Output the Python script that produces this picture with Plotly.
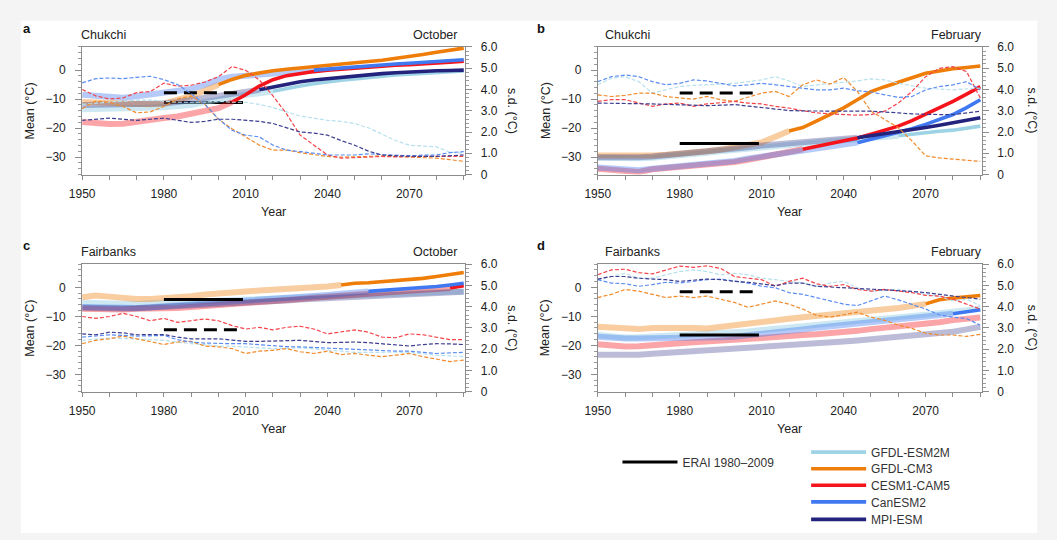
import plotly.graph_objects as go

# ---------------------------------------------------------------- data
YEARS = list(range(1950, 2091, 5))
MODELS = ["GFDL-ESM2M", "GFDL-CM3", "CESM1-CAM5", "CanESM2", "MPI-ESM"]
PANEL_LETTERS = ["a", "b", "c", "d"]
PANEL_SITES = ["Chukchi", "Chukchi", "Fairbanks", "Fairbanks"]
PANEL_MONTHS = ["October", "February", "October", "February"]
X_TICKS = [1950, 1980, 2010, 2040, 2070]
Y_LEFT_TICKS = [0, -10, -20, -30]
Y_RIGHT_TICKS = [0, 1, 2, 3, 4, 5, 6]
Y_RIGHT_TICKTEXT = ["0", "1.0", "2.0", "3.0", "4.0", "5.0", "6.0"]

ERAI_YEARS = [1980, 2009]
ERAI_MEAN = [-11.2, -25.3, -4.2, -16.4]
ERAI_SD = [3.85, 3.83, 2.92, 4.7]

# year from which each model's mean is drawn saturated (None = never)
A_BOLD_START = [2020, 2000, 2005, 2035, 2015]
B_BOLD_START = [2060, 2020, 2025, 2045, 2045]
C_BOLD_START = [None, 2045, 2085, 2055, None]
D_BOLD_START = [None, 2070, None, 2080, None]

# ---- panel a: Chukchi, October
A_MEAN_ESM2M = [-13.5, -13.5, -13.5, -13.5, -13.3, -13, -12.8, -12.5, -12, -11, -10, -9.2, -8.5, -8, -7.3,
                -6.3, -5.5, -4.7, -4, -3.5, -3, -2.5, -2, -1.7, -1.4, -1.1, -0.9, -0.6, -0.3]
A_MEAN_CM3 = [-11, -11.2, -11.5, -11.8, -12, -11.8, -11.5, -10.5, -9, -7, -5, -3.2, -1.8, -0.9, -0.2,
              0.3, 0.8, 1.2, 1.7, 2.1, 2.6, 3.0, 3.4, 4.0, 4.6, 5.4, 6.2, 6.9, 7.6]
A_MEAN_CESM = [-17.9, -18.3, -18.6, -18.5, -17.7, -17, -16.5, -16, -15.2, -14.3, -13.1, -11, -8.5, -5.5, -3.3,
               -1.9, -1.1, -0.5, 0, 0.4, 0.8, 1.1, 1.5, 1.7, 1.9, 2.1, 2.3, 2.7, 3.1]
A_MEAN_CAN = [-8.5, -9, -9.5, -9.5, -9, -8.5, -8, -7.5, -6.5, -5, -3.2, -2.3, -1.8, -1.5, -1.2,
              -0.8, -0.4, 0, 0.4, 0.8, 1.2, 1.5, 1.8, 2.1, 2.4, 2.7, 3.0, 3.3, 3.6]
A_MEAN_MPI = [-12, -12, -12, -12, -12, -11.8, -11.5, -11, -10.3, -9.5, -8.8, -8.3, -7.8, -6.8, -5.8,
              -4.8, -4, -3.4, -2.9, -2.4, -2.0, -1.6, -1.2, -0.9, -0.6, -0.4, -0.2, -0.1, 0]
A_SD_ESM2M = [3.3, 3.35, 3.4, 3.45, 3.5, 3.5, 3.45, 3.4, 3.4, 3.4, 3.45, 3.4, 3.4, 3.3, 3.15,
              2.95, 2.75, 2.65, 2.55, 2.5, 2.4, 2.2, 1.9, 1.6, 1.38, 1.35, 1.3, 1.05, 1.0]
A_SD_CM3 = [3.1, 3.45, 3.4, 3.2, 2.9, 2.95, 3.2, 3.55, 3.7, 3.3, 2.6, 2.15, 1.77, 1.38, 1.15,
            1.15, 1.03, 0.95, 0.85, 0.82, 0.82, 0.85, 0.88, 0.85, 0.85, 0.82, 0.77, 0.7, 0.62]
A_SD_CESM = [4.0, 3.7, 3.55, 3.6, 3.85, 3.9, 4.3, 4.15, 4.2, 4.35, 4.6, 5.08, 4.9, 4.45, 3.7,
             2.85, 1.85, 1.38, 0.92, 0.77, 0.8, 0.82, 0.85, 0.83, 0.85, 0.85, 0.85, 0.85, 0.85]
A_SD_CAN = [4.31, 4.51, 4.54, 4.51, 4.57, 4.62, 4.46, 4.23, 3.8, 3.31, 2.62, 2.08, 1.85, 1.77, 1.38,
            1.15, 1.08, 1.0, 0.92, 0.92, 0.92, 0.97, 0.95, 0.91, 0.88, 0.91, 0.92, 1.03, 1.08]
A_SD_MPI = [2.55, 2.6, 2.65, 2.6, 2.55, 2.6, 2.65, 2.55, 2.45, 2.5, 2.6, 2.6, 2.55, 2.5, 2.4,
            2.2, 2.0, 1.95, 1.85, 1.6, 1.38, 1.1, 0.92, 0.88, 0.85, 0.85, 0.85, 0.88, 0.92]

# ---- panel b: Chukchi, February
B_MEAN_ESM2M = [-30.2, -30.4, -30.5, -30.4, -30.2, -29.9, -29.5, -29, -28.5, -28, -27.5, -27, -26.5, -26, -25.5,
                -25.1, -24.8, -24.5, -24.2, -23.9, -23.5, -23.1, -22.6, -22, -21.5, -21.1, -20.7, -20, -19.3]
B_MEAN_CM3 = [-29.4, -29.5, -29.6, -29.5, -29.4, -29.2, -28.9, -28.5, -28, -27.4, -26.6, -25.8, -24.9, -23, -21,
              -19.8, -17.6, -15.3, -13, -10.2, -7.4, -5.7, -4.2, -2.6, -1.1, -0.3, 0.5, 0.9, 1.4]
B_MEAN_CESM = [-34, -34.4, -34.8, -35.1, -34.2, -33.8, -33.4, -33.1, -32.8, -32.3, -31.7, -30.9, -30, -29.2, -28.3,
               -27.3, -26.4, -25.5, -24.6, -23.4, -22.1, -20.8, -19.3, -17.4, -15.3, -13, -10.8, -8.3, -5.7]
B_MEAN_CAN = [-33.6, -34, -34.3, -34.5, -34, -33.6, -33.2, -32.8, -32.4, -31.9, -31.3, -30.5, -29.8, -29, -28.2,
              -27.5, -26.8, -26.2, -25.6, -25, -23.8, -22.7, -21.5, -20.2, -18.7, -17, -15.3, -12.9, -10.2]
B_MEAN_MPI = [-30, -30.1, -30.2, -30, -29.8, -29.4, -28.9, -28.5, -28.1, -27.7, -27.2, -26.6, -26, -25.6, -25.3,
              -24.8, -24.3, -24, -23.8, -23.3, -22.6, -22.1, -21.5, -20.7, -19.8, -19, -18.1, -17.3, -16.4]
B_SD_ESM2M = [4.22, 4.53, 4.6, 4.37, 3.83, 3.98, 4.14, 4.19, 4.22, 4.25, 4.29, 4.37, 4.45, 4.6, 4.4,
              4.14, 4.22, 4.28, 4.34, 4.4, 4.5, 4.45, 4.29, 4.17, 4.06, 4.02, 3.98, 4.03, 4.06]
B_SD_CM3 = [3.75, 3.67, 3.72, 3.83, 3.83, 3.67, 3.6, 3.55, 3.67, 3.52, 3.44, 3.63, 3.83, 3.91, 3.67,
            4.22, 4.45, 4.25, 4.56, 3.91, 2.98, 2.59, 2.2, 1.58, 0.88, 0.78, 0.73, 0.65, 0.62]
B_SD_CESM = [3.44, 3.52, 3.52, 3.36, 3.21, 3.32, 3.36, 3.21, 3.32, 3.38, 3.44, 3.36, 3.32, 3.21, 3.13,
             3.0, 2.9, 2.85, 2.82, 2.79, 2.82, 2.98, 3.36, 3.91, 4.6, 4.99, 5.07, 4.84, 3.6]
B_SD_CAN = [4.37, 4.6, 4.68, 4.6, 4.37, 4.22, 4.29, 4.45, 4.4, 4.29, 4.17, 4.22, 4.29, 4.22, 4.14,
            4.06, 3.98, 3.98, 4.06, 3.94, 3.88, 3.75, 3.63, 3.67, 3.98, 4.14, 4.22, 4.37, 3.98]
B_SD_MPI = [3.36, 3.36, 3.36, 3.33, 3.32, 3.3, 3.29, 3.26, 3.24, 3.26, 3.29, 3.22, 3.16, 3.09, 3.01,
            2.99, 2.98, 2.98, 2.98, 2.98, 2.98, 2.95, 2.9, 2.85, 2.82, 2.82, 2.82, 2.9, 2.98]

# ---- panel c: Fairbanks, October
C_MEAN_ESM2M = [-5.3, -5.5, -5.6, -5.7, -5.7, -5.5, -5.3, -5.1, -4.9, -4.7, -4.5, -4.3, -4.2, -3.9, -3.7,
                -3.6, -3.4, -3.1, -2.8, -2.6, -2.5, -2.3, -2.3, -2.1, -2.0, -1.8, -1.7, -1.5, -1.4]
C_MEAN_CM3 = [-3.4, -2.8, -3.2, -3.75, -4, -4, -3.8, -3.5, -3.1, -2.5, -2, -1.7, -1.4, -1.1, -0.9,
              -0.6, -0.3, 0, 0.3, 0.8, 1.4, 1.6, 1.9, 2.2, 2.6, 3.1, 3.75, 4.4, 5.1]
C_MEAN_CESM = [-7.4, -7.6, -7.7, -7.6, -7.4, -7.4, -7.4, -7.1, -6.8, -6.5, -6.25, -5.8, -5.3, -5.0, -4.8,
               -4.4, -4, -3.6, -3.2, -2.8, -2.5, -2.1, -1.7, -1.4, -1.1, -0.8, -0.6, -0.2, 0.6]
C_MEAN_CAN = [-6.8, -7, -7.2, -7.2, -7.1, -6.9, -6.6, -6.3, -6, -5.6, -5.3, -5.1, -4.9, -4.5, -4.2,
              -3.8, -3.4, -3, -2.6, -2.2, -1.9, -1.4, -1.1, -0.7, -0.3, 0, 0.3, 0.8, 1.4]
C_MEAN_MPI = [-7, -7.2, -7.4, -7.3, -7.2, -7, -6.8, -6.5, -6.3, -6.1, -5.9, -5.6, -5.3, -5, -4.8,
              -4.5, -4.2, -4, -3.75, -3.5, -3.4, -3.1, -2.8, -2.6, -2.5, -2.2, -2, -1.8, -1.5]
C_SD_ESM2M = [2.42, 2.48, 2.52, 2.51, 2.49, 2.46, 2.42, 2.34, 2.26, 2.22, 2.15, 2.14, 2.11, 2.06, 2.03,
              2.05, 2.06, 2.02, 1.95, 1.91, 1.85, 1.86, 1.88, 1.86, 1.85, 1.78, 1.72, 1.69, 1.65]
C_SD_CM3 = [2.26, 2.42, 2.49, 2.62, 2.49, 2.34, 2.22, 2.34, 2.37, 2.15, 2.11, 2.03, 1.8, 1.91, 1.95,
            2.03, 1.88, 1.8, 1.91, 1.75, 1.8, 1.72, 1.65, 1.72, 1.8, 1.65, 1.54, 1.42, 1.49]
C_SD_CESM = [3.54, 3.45, 3.54, 3.69, 3.54, 3.34, 3.45, 3.26, 3.34, 3.42, 3.34, 3.11, 2.95, 3.03, 2.91,
             3.03, 3.08, 2.95, 2.72, 2.8, 2.91, 2.8, 2.57, 2.54, 2.72, 2.68, 2.57, 2.45, 2.45]
C_SD_CAN = [2.57, 2.62, 2.68, 2.65, 2.62, 2.63, 2.65, 2.45, 2.34, 2.29, 2.26, 2.26, 2.26, 2.22, 2.15,
            2.12, 2.11, 2.08, 2.03, 2.02, 2.0, 1.95, 1.91, 1.91, 1.91, 1.85, 1.8, 1.83, 1.85]
C_SD_MPI = [2.72, 2.68, 2.8, 2.77, 2.68, 2.68, 2.69, 2.57, 2.49, 2.49, 2.49, 2.43, 2.37, 2.37, 2.37,
            2.4, 2.42, 2.37, 2.31, 2.32, 2.34, 2.31, 2.26, 2.2, 2.15, 2.22, 2.26, 2.25, 2.22]

# ---- panel d: Fairbanks, February
D_MEAN_ESM2M = [-16.4, -17, -17.3, -17.2, -17, -16.7, -16.4, -16.3, -16.2, -15.9, -15.6, -15.2, -14.7, -14.3, -13.8,
                -13.4, -13, -12.5, -12.1, -11.7, -11.3, -10.9, -10.5, -10, -9.4, -8.9, -8.3, -7.9, -7.4]
D_MEAN_CM3 = [-13.6, -14, -14.4, -14.4, -14, -13.9, -13.8, -14, -14.2, -13.6, -12.7, -12.2, -11.7, -11.2, -10.8,
              -10.3, -9.9, -9.5, -9.1, -8.6, -8.2, -7.7, -7.1, -6.4, -5.7, -4.3, -3.7, -3.4, -2.8]
D_MEAN_CESM = [-19.6, -20.1, -20.4, -20.3, -20.1, -19.7, -19.3, -18.9, -18.7, -18.5, -18.3, -17.9, -17.5, -17.1, -16.6,
               -16.4, -16.2, -15.9, -15.5, -15, -14.4, -14, -13.6, -13.1, -12.5, -12, -11.3, -10.9, -10.4]
D_MEAN_CAN = [-17, -17.4, -17.6, -17.6, -17.6, -17.6, -17.6, -17.5, -17.3, -17.2, -17, -16.6, -16.2, -15.7, -15.1,
              -14.5, -13.9, -13.4, -13, -12.6, -12.2, -11.7, -11.3, -10.8, -10.2, -9.6, -9.1, -8.5, -7.7]
D_MEAN_MPI = [-23.2, -23.3, -23.4, -23.2, -22.9, -22.6, -22.3, -22, -21.8, -21.6, -21.5, -21.2, -20.9, -20.6, -20.4,
              -19.9, -19.4, -19.1, -18.7, -18.3, -17.9, -17.4, -17, -16.6, -16.2, -15.7, -15.3, -14.5, -13.6]
D_SD_ESM2M = [5.27, 5.42, 5.57, 5.34, 5.34, 5.5, 5.65, 5.73, 5.65, 5.5, 5.57, 5.5, 5.34, 5.27, 5.19,
              5.11, 4.96, 5.11, 5.19, 4.89, 4.73, 4.78, 4.81, 4.69, 4.58, 4.5, 4.27, 4.35, 4.05]
D_SD_CM3 = [4.43, 4.58, 4.81, 4.73, 4.58, 4.43, 4.5, 4.43, 4.5, 4.35, 4.2, 3.97, 4.12, 4.27, 4.12,
            3.89, 3.59, 3.51, 3.62, 3.74, 3.51, 3.36, 3.13, 2.98, 2.75, 2.67, 2.67, 2.6, 2.7]
D_SD_CESM = [5.5, 5.73, 5.76, 5.6, 5.54, 5.73, 5.91, 5.85, 5.92, 5.8, 5.42, 5.34, 5.27, 4.96, 5.19,
             5.34, 5.08, 4.96, 5.04, 4.81, 4.73, 4.81, 4.73, 4.66, 4.53, 4.5, 4.35, 4.12, 3.89]
D_SD_CAN = [5.27, 5.11, 5.08, 4.96, 5.04, 5.15, 5.11, 5.19, 5.27, 5.3, 5.19, 5.11, 4.96, 4.89, 4.66,
            4.58, 4.43, 4.27, 4.12, 4.05, 4.27, 4.5, 4.32, 4.12, 3.89, 3.62, 3.51, 3.44, 3.13]
D_SD_MPI = [5.3, 5.42, 5.42, 5.34, 5.3, 5.27, 5.19, 5.24, 5.3, 5.27, 5.19, 5.15, 5.08, 4.99, 5.11,
            5.11, 4.96, 4.93, 4.89, 4.84, 4.81, 4.78, 4.76, 4.72, 4.66, 4.58, 4.5, 4.43, 4.35]

# ---------------------------------------------------------------- styles
COLORS = ["#9ed3e6", "#ef7d0a", "#f5141c", "#3f78f0", "#23237e"]
SD_COLORS = ["#b7e0ee", "#f08a2a", "#f5434a", "#5b8cf2", "#3d3d8f"]
FADE_OPACITY = [0.5, 0.38, 0.38, 0.38, 0.3]
FONT = "Liberation Sans, Arial, sans-serif"
W, H = 1057, 540

PANEL_MEANS = [
    [A_MEAN_ESM2M, A_MEAN_CM3, A_MEAN_CESM, A_MEAN_CAN, A_MEAN_MPI],
    [B_MEAN_ESM2M, B_MEAN_CM3, B_MEAN_CESM, B_MEAN_CAN, B_MEAN_MPI],
    [C_MEAN_ESM2M, C_MEAN_CM3, C_MEAN_CESM, C_MEAN_CAN, C_MEAN_MPI],
    [D_MEAN_ESM2M, D_MEAN_CM3, D_MEAN_CESM, D_MEAN_CAN, D_MEAN_MPI],
]
PANEL_SDS = [
    [A_SD_ESM2M, A_SD_CM3, A_SD_CESM, A_SD_CAN, A_SD_MPI],
    [B_SD_ESM2M, B_SD_CM3, B_SD_CESM, B_SD_CAN, B_SD_MPI],
    [C_SD_ESM2M, C_SD_CM3, C_SD_CESM, C_SD_CAN, C_SD_MPI],
    [D_SD_ESM2M, D_SD_CM3, D_SD_CESM, D_SD_CAN, D_SD_MPI],
]
PANEL_BOLD = [A_BOLD_START, B_BOLD_START, C_BOLD_START, D_BOLD_START]
ERAI_ON_TOP = [False, True, True, True]

# plot-area boxes in pixels (left, right, top, bottom)
BOXES = [(70, 458, 41, 172), (592, 981, 41, 172), (70, 458, 264, 395), (592, 981, 264, 395)]
# legend rows (pixel centre y) for each model, and the ERAI legend row
LEGEND_ROWS = [457, 474, 491, 508, 526]
LEGEND_NAMES = ["legend", "legend3", "legend4", "legend5", "legend6"]


def fx(px):
    return px / W


def fy(py):
    return 1 - py / H


fig = go.Figure()
layout = {}
annotations = []

for p in range(4):
    xn = "x" if p == 0 else f"x{p + 1}"
    yl = "y" if p == 0 else f"y{2 * p + 1}"
    yr = f"y{2 * p + 2}"
    l, r, t, b = BOXES[p]

    def add_erai():
        fig.add_trace(go.Scatter(x=ERAI_YEARS, y=[ERAI_MEAN[p]] * 2, xaxis=xn, yaxis=yl, mode="lines",
                                 line=dict(color="black", width=3), name="ERAI 1980–2009",
                                 legend="legend2", showlegend=(p == 1), hoverinfo="skip"))
        fig.add_trace(go.Scatter(x=ERAI_YEARS, y=[ERAI_SD[p]] * 2, xaxis=xn, yaxis=yr, mode="lines",
                                 line=dict(color="black", width=3, dash="13px,7px"),
                                 showlegend=False, hoverinfo="skip"))

    if not ERAI_ON_TOP[p]:
        add_erai()

    # faded (pre-emergence) mean lines
    for m in range(5):
        start = PANEL_BOLD[p][m]
        vals = PANEL_MEANS[p][m]
        if start is None:
            xs, ys = YEARS, vals
        else:
            k = YEARS.index(start)
            xs, ys = YEARS[:k + 1], vals[:k + 1]
        fig.add_trace(go.Scatter(x=xs, y=ys, xaxis=xn, yaxis=yl, mode="lines",
                                 line=dict(color=COLORS[m], width=6), opacity=FADE_OPACITY[m],
                                 showlegend=False, hoverinfo="skip"))
    # s.d. dashed lines
    for m in range(5):
        fig.add_trace(go.Scatter(x=YEARS, y=PANEL_SDS[p][m], xaxis=xn, yaxis=yr, mode="lines",
                                 line=dict(color=SD_COLORS[m], width=1.2, dash="4px,2px"),
                                 showlegend=False, hoverinfo="skip"))
    if ERAI_ON_TOP[p]:
        add_erai()
    # saturated (post-emergence) mean lines
    for m in range(5):
        start = PANEL_BOLD[p][m]
        if start is None:
            continue
        k = YEARS.index(start)
        fig.add_trace(go.Scatter(x=YEARS[k:], y=PANEL_MEANS[p][m][k:], xaxis=xn, yaxis=yl, mode="lines",
                                 line=dict(color=COLORS[m], width=3.6), name=MODELS[m],
                                 legend=LEGEND_NAMES[m], showlegend=(p == 0), hoverinfo="skip"))

    axis_common = dict(showline=True, linecolor="#8c8c8c", linewidth=1, ticks="outside",
                       tickcolor="#8c8c8c", tickfont=dict(family=FONT, size=12, color="#222"),
                       showgrid=False, zeroline=False)
    layout["xaxis" if p == 0 else f"xaxis{p + 1}"] = dict(
        axis_common, domain=[fx(l), fx(r)], anchor=yl, range=[1950, 2090.6],
        tickvals=X_TICKS, ticklen=4, mirror=True,
        minor=dict(dtick=10, tick0=1950, ticks="outside", ticklen=4, tickcolor="#8c8c8c"),
        ticklabelstandoff=4)
    layout["yaxis" if p == 0 else f"yaxis{2 * p + 1}"] = dict(
        axis_common, domain=[fy(b), fy(t)], anchor=xn, range=[-36, 8], side="left",
        tickvals=Y_LEFT_TICKS, ticklen=6,
        minor=dict(dtick=2, tick0=0, ticks="outside", ticklen=3, tickcolor="#9a9a9a"),
        ticklabelstandoff=7)
    layout[f"yaxis{2 * p + 2}"] = dict(
        axis_common, domain=[fy(b), fy(t)], anchor=xn, overlaying=yl, range=[0, 6], side="right",
        tickvals=Y_RIGHT_TICKS, ticktext=Y_RIGHT_TICKTEXT, ticklen=6,
        minor=dict(dtick=0.2, tick0=0, ticks="outside", ticklen=3, tickcolor="#9a9a9a"),
        ticklabelstandoff=6)

    # panel texts
    left_txt = l - 3 if p % 2 == 0 else l + 5
    right_txt = r - 6 if p % 2 == 0 else r + 2
    ty = t - 12
    txt_font = dict(family=FONT, size=12.5, color="#222")
    annotations += [
        dict(text=PANEL_SITES[p], x=fx(left_txt), y=fy(ty), xref="paper", yref="paper",
             xanchor="left", yanchor="middle", showarrow=False, font=txt_font),
        dict(text=PANEL_MONTHS[p], x=fx(right_txt), y=fy(ty), xref="paper", yref="paper",
             xanchor="right", yanchor="middle", showarrow=False, font=txt_font),
        dict(text="<b>%s</b>" % PANEL_LETTERS[p], x=fx(8 if p % 2 == 0 else 529), y=fy(t - 19),
             xref="paper", yref="paper", xanchor="left", yanchor="middle", showarrow=False,
             font=dict(family=FONT, size=13, color="#111")),
        dict(text="Year", x=fx((l + r) / 2), y=fy(b + 38), xref="paper", yref="paper",
             xanchor="center", yanchor="middle", showarrow=False, font=txt_font),
        dict(text="Mean (°C)", x=fx(l - 53), y=fy((t + b) / 2), xref="paper", yref="paper",
             xanchor="center", yanchor="middle", textangle=-90, showarrow=False, font=txt_font),
        dict(text="s.d. (°C)", x=fx(r + (47 if p % 2 == 0 else 51)), y=fy((t + b) / 2),
             xref="paper", yref="paper", xanchor="center", yanchor="middle", textangle=90,
             showarrow=False, font=txt_font),
    ]

legend_font = dict(family=FONT, size=12, color="#333")
for m in range(5):
    layout[LEGEND_NAMES[m]] = dict(x=fx(803), y=fy(LEGEND_ROWS[m]), xanchor="left", yanchor="middle",
                                   bgcolor="rgba(0,0,0,0)", font=legend_font, itemwidth=55)
layout["legend2"] = dict(x=fx(612), y=fy(467), xanchor="left", yanchor="middle",
                         bgcolor="rgba(0,0,0,0)", font=legend_font, itemwidth=55)

layout.update(
    width=W, height=H, margin=dict(l=0, r=0, t=0, b=0),
    paper_bgcolor="#f4f4f4", plot_bgcolor="white",
    font=dict(family=FONT, size=12, color="#222"),
    annotations=annotations,
    shapes=[dict(type="rect", xref="paper", yref="paper", x0=fx(8), x1=fx(1037), y0=0, y1=fy(14),
                 fillcolor="white", line=dict(width=0), layer="below")],
    showlegend=True,
)
fig.update_layout(**layout)
fig.write_html("out.html", config={"displayModeBar": False},
               post_script="document.body.style.margin='0';document.body.style.overflow='hidden';")
